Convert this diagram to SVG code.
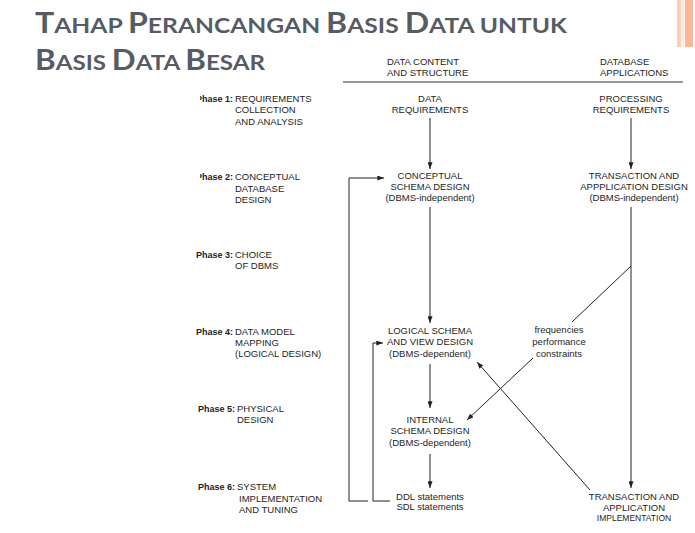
<svg xmlns="http://www.w3.org/2000/svg" width="695" height="533" viewBox="0 0 695 533">
<defs>
<marker id="ah" viewBox="0 0 8 6" refX="8" refY="3" markerWidth="7" markerHeight="5" markerUnits="userSpaceOnUse" orient="auto"><path d="M0,0 L8,3 L0,6 z" fill="#222"/></marker>
<clipPath id="clipL"><rect x="200" y="0" width="495" height="533"/></clipPath>
</defs>
<style>
.t{font-family:"Liberation Sans",Arial,Helvetica,sans-serif;font-size:9.5px;fill:#1e1e1e}
.c{text-anchor:middle}
.e{text-anchor:end}
.b{font-weight:bold;font-size:9px}
.sm{font-size:8.5px}
.ln{stroke:#222;stroke-width:1;fill:none}
.ar{marker-end:url(#ah)}
.title{font-family:Lato,"Open Sans","Liberation Sans",sans-serif;font-weight:bold;fill:#575c64}
.big{font-size:28px}
.sc{font-size:21.5px}
</style>
<rect width="695" height="533" fill="#ffffff"/>
<g id="accent">
<rect x="677" y="0" width="4" height="47" fill="#fbcdbb"/>
<rect x="682" y="0" width="2" height="47" fill="#fde6dc"/>
<rect x="685" y="0" width="8" height="47" fill="#f8b797"/>
</g>
<g id="title" class="title">
<text x="35" y="33" textLength="532" lengthAdjust="spacingAndGlyphs"><tspan class="big">T</tspan><tspan class="sc">AHAP </tspan><tspan class="big">P</tspan><tspan class="sc">ERANCANGAN </tspan><tspan class="big">B</tspan><tspan class="sc">ASIS </tspan><tspan class="big">D</tspan><tspan class="sc">ATA UNTUK</tspan></text>
<text x="35" y="70" textLength="230" lengthAdjust="spacingAndGlyphs"><tspan class="big">B</tspan><tspan class="sc">ASIS </tspan><tspan class="big">D</tspan><tspan class="sc">ATA </tspan><tspan class="big">B</tspan><tspan class="sc">ESAR</tspan></text>
</g>
<g id="header">
<text class="t" x="387" y="65">DATA CONTENT</text>
<text class="t" x="387" y="76">AND STRUCTURE</text>
<text class="t" x="600" y="65">DATABASE</text>
<text class="t" x="600" y="76">APPLICATIONS</text>
<line x1="343" y1="82" x2="683" y2="82" stroke="#333" stroke-width="1"/>
</g>
<g id="phase1">
<text class="t b e" x="233" y="102" clip-path="url(#clipL)">Phase 1:</text>
<text class="t" x="235" y="102">REQUIREMENTS</text>
<text class="t" x="235" y="113">COLLECTION</text>
<text class="t" x="235" y="125">AND ANALYSIS</text>
</g>
<g id="phase2">
<text class="t b e" x="233" y="180" clip-path="url(#clipL)">Phase 2:</text>
<text class="t" x="235" y="180">CONCEPTUAL</text>
<text class="t" x="235" y="192">DATABASE</text>
<text class="t" x="235" y="203">DESIGN</text>
</g>
<g id="phase3">
<text class="t b e" x="233" y="258">Phase 3:</text>
<text class="t" x="235" y="258">CHOICE</text>
<text class="t" x="235" y="269">OF DBMS</text>
</g>
<g id="phase4">
<text class="t b e" x="233" y="335">Phase 4:</text>
<text class="t" x="235" y="335">DATA MODEL</text>
<text class="t" x="235" y="346">MAPPING</text>
<text class="t" x="235" y="357">(LOGICAL DESIGN)</text>
</g>
<g id="phase5">
<text class="t b e" x="235" y="412">Phase 5:</text>
<text class="t" x="237" y="412">PHYSICAL</text>
<text class="t" x="237" y="423">DESIGN</text>
</g>
<g id="phase6">
<text class="t b e" x="235" y="490">Phase 6:</text>
<text class="t" x="237" y="490">SYSTEM</text>
<text class="t" x="239" y="502">IMPLEMENTATION</text>
<text class="t" x="239" y="513">AND TUNING</text>
</g>
<g id="data-req">
<text class="t c" x="430" y="102">DATA</text>
<text class="t c" x="430" y="113">REQUIREMENTS</text>
</g>
<g id="conceptual">
<text class="t c" x="430" y="179">CONCEPTUAL</text>
<text class="t c" x="430" y="190">SCHEMA DESIGN</text>
<text class="t c" x="430" y="201">(DBMS-independent)</text>
</g>
<g id="logical">
<text class="t c" x="430" y="334">LOGICAL SCHEMA</text>
<text class="t c" x="430" y="345">AND VIEW DESIGN</text>
<text class="t c" x="430" y="357">(DBMS-dependent)</text>
</g>
<g id="internal">
<text class="t c" x="430" y="423">INTERNAL</text>
<text class="t c" x="430" y="434">SCHEMA DESIGN</text>
<text class="t c" x="430" y="446">(DBMS-dependent)</text>
</g>
<g id="ddl">
<text class="t c" x="430" y="500">DDL statements</text>
<text class="t c" x="430" y="510">SDL statements</text>
</g>
<g id="proc-req">
<text class="t c" x="631" y="102">PROCESSING</text>
<text class="t c" x="631" y="113">REQUIREMENTS</text>
</g>
<g id="trans-design">
<text class="t c" x="634" y="179">TRANSACTION AND</text>
<text class="t c" x="634" y="190">APPPLICATION DESIGN</text>
<text class="t c" x="634" y="201">(DBMS-independent)</text>
</g>
<g id="trans-impl">
<text class="t c" x="634" y="500">TRANSACTION AND</text>
<text class="t c" x="634" y="511">APPLICATION</text>
<text class="t c sm" x="634" y="521">IMPLEMENTATION</text>
</g>
<g id="connectors">
<path class="ln ar" d="M430,118 V169"/>
<path class="ln ar" d="M430,207 V323"/>
<path class="ln ar" d="M430,364 V408"/>
<path class="ln ar" d="M430,454 V488"/>
<path class="ln ar" d="M631,118 V169"/>
<path class="ln ar" d="M631,207 V488"/>
<path class="ln ar" d="M368,501 H349 V178 H384"/>
<path class="ln ar" d="M390,501 H373 V343 H383"/>
<path class="ln" d="M631,266 L572,322"/>
<path class="ln ar" d="M533,358 L467,420"/>
<path class="ln ar" d="M590,490 L477,362"/>
<text class="t c" x="559" y="333">frequencies</text>
<text class="t c" x="559" y="345">performance</text>
<text class="t c" x="559" y="357">constraints</text>
</g>
</svg>
